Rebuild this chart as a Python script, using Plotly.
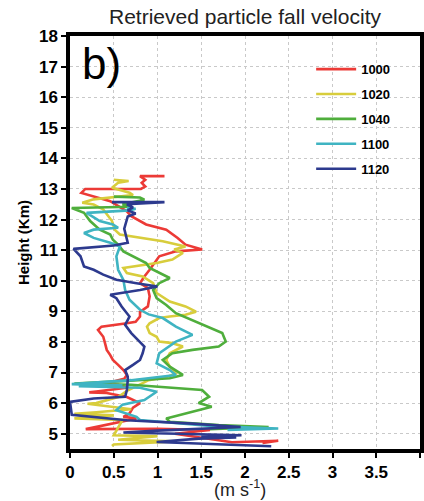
import plotly.graph_objects as go

# ---- data (velocity in m/s, height in km) ----
series_names = ["1000", "1020", "1040", "1100", "1120"]

red_v = [1.08, 0.80, 0.86, 0.82, 0.86, 0.81, 0.50, 0.175, 0.13, 0.27, 0.46, 0.65, 0.70, 0.87, 1.10, 1.23,
         1.32, 1.51, 1.21, 1.02, 0.97, 0.91, 0.85, 0.80, 0.89, 0.91, 0.89, 0.80, 0.80, 0.75, 0.65, 0.36,
         0.32, 0.38, 0.40, 0.42, 0.46, 0.49, 0.55, 0.61, 0.65, 0.62, 0.46, 0.34, 0.55, 0.65, 0.30, 0.22,
         0.42, 0.65, 0.80, 0.72, 0.68, 0.61, 0.76, 0.60, 0.18, 1.00, 1.60, 1.20, 1.85, 2.38, 2.20]
red_h = [13.42, 13.42, 13.30, 13.20, 13.08, 13.00, 13.00, 13.00, 12.87, 12.76, 12.60, 12.27, 12.11, 11.84,
         11.67, 11.40, 11.18, 11.02, 10.96, 10.80, 10.58, 10.36, 10.14, 9.92, 9.76, 9.49, 9.16, 8.98, 8.83,
         8.66, 8.61, 8.50, 8.39, 8.17, 7.96, 7.74, 7.57, 7.41, 7.25, 7.08, 6.92, 6.80, 6.68, 6.65, 6.60,
         6.50, 6.38, 6.35, 6.33, 6.20, 6.00, 5.85, 5.66, 5.55, 5.50, 5.40, 5.15, 5.16, 5.12, 5.00, 4.72,
         4.77, 4.70]

yellow_v = [0.50, 0.58, 0.67, 0.55, 0.48, 0.68, 0.72, 0.27, 0.14, 0.27, 0.38, 0.48, 0.51, 0.57, 0.83, 1.06,
            1.32, 1.19, 1.29, 1.17, 0.99, 0.83, 0.61, 0.65, 0.83, 0.95, 0.99, 1.14, 1.32, 1.44, 1.32, 1.14,
            1.02, 0.91, 0.88, 0.91, 0.99, 1.02, 1.17, 1.29, 1.14, 1.10, 1.14, 1.21, 1.10, 0.90, 0.65, 0.55,
            0.30, 0.20, 0.45, 0.70, 0.30, 0.05, 0.50, 0.05, 0.60, 0.50, 1.00, 0.55, 1.20, 0.50, 0.48]
yellow_h = [13.30, 13.28, 13.26, 13.20, 13.04, 12.88, 12.80, 12.66, 12.55, 12.49, 12.33, 11.95, 11.67, 11.51,
            11.40, 11.29, 11.12, 11.02, 10.91, 10.69, 10.58, 10.52, 10.42, 10.25, 10.14, 9.92, 9.60, 9.32,
            9.16, 8.99, 8.89, 8.83, 8.78, 8.61, 8.50, 8.29, 8.17, 8.01, 7.96, 7.85, 7.63, 7.41, 7.19, 6.97,
            6.85, 6.75, 6.40, 6.20, 6.00, 5.98, 5.90, 5.80, 5.70, 5.65, 5.60, 5.50, 5.45, 4.95, 4.92, 4.80,
            4.75, 4.65, 4.60]

green_v = [0.50, 0.80, 0.85, 0.60, 0.70, 0.02, 0.16, 0.23, 0.34, 0.46, 0.49, 0.55, 0.61, 0.76, 0.87, 0.91,
           1.02, 1.14, 1.02, 0.95, 0.99, 1.10, 1.21, 1.47, 1.66, 1.74, 1.78, 1.70, 1.40, 1.17, 1.06, 1.14,
           1.29, 1.14, 0.60, 0.05, 0.70, 1.51, 1.59, 1.47, 1.62, 1.32, 1.10, 1.14, 1.70, 2.27, 1.60]
green_h = [12.75, 12.72, 12.65, 12.50, 12.42, 12.38, 12.22, 11.95, 11.67, 11.51, 11.34, 11.18, 10.96, 10.74,
           10.58, 10.42, 10.25, 10.09, 9.92, 9.70, 9.43, 9.21, 8.94, 8.61, 8.39, 8.29, 8.01, 7.85, 7.74,
           7.63, 7.41, 7.19, 6.92, 6.81, 6.72, 6.64, 6.60, 6.43, 6.21, 6.00, 5.88, 5.66, 5.50, 5.39, 5.28,
           5.22, 5.15]

cyan_v = [0.65, 0.75, 0.68, 0.19, 0.34, 0.49, 0.55, 0.27, 0.16, 0.27, 0.46, 0.57, 0.53, 0.55, 0.61, 0.63,
          0.68, 0.80, 0.90, 1.06, 1.21, 1.40, 1.21, 1.02, 0.99, 1.14, 1.21, 0.70, 0.02, 0.60, 0.10, 0.80,
          0.99, 0.85, 0.60, 0.53, 0.76, 0.80, 1.60, 2.38, 1.80]
cyan_h = [12.38, 12.35, 12.30, 12.22, 11.95, 11.84, 11.73, 11.67, 11.56, 11.40, 11.24, 11.12, 10.80, 10.36,
          10.03, 9.70, 9.38, 9.05, 8.90, 8.78, 8.50, 8.23, 8.01, 7.63, 7.30, 7.08, 6.92, 6.75, 6.62, 6.58,
          6.55, 6.50, 6.37, 6.10, 5.95, 5.77, 5.55, 5.45, 5.25, 5.17, 5.12]

blue_v = [0.48, 1.08, 0.65, 0.72, 0.66, 0.75, 0.66, 0.62, 0.66, 0.50, 0.04, 0.12, 0.16, 0.27, 0.38, 0.53,
          0.76, 1.00, 0.80, 0.46, 0.53, 0.59, 0.68, 0.63, 0.70, 0.78, 0.85, 0.83, 0.80, 0.72, 0.63, 0.66,
          0.66, 0.65, 0.63, 0.27, 0.00, 0.02, 0.65, 1.40, 1.95, 1.00, 0.61, 1.96, 1.50, 1.90, 1.47, 0.99,
          2.30]
blue_h = [12.57, 12.57, 12.50, 12.40, 12.30, 12.20, 12.10, 11.70, 11.24, 11.15, 11.04, 10.80, 10.47, 10.36,
          10.20, 10.03, 9.92, 9.81, 9.70, 9.54, 9.43, 9.16, 8.83, 8.56, 8.29, 8.07, 7.85, 7.63, 7.41, 7.25,
          7.08, 6.86, 6.75, 6.43, 6.21, 6.15, 6.04, 5.62, 5.44, 5.33, 5.22, 5.10, 5.04, 4.95, 4.90, 4.88,
          4.84, 4.73, 4.59]

x_ticks = [0, 0.5, 1, 1.5, 2, 2.5, 3, 3.5, 4]
x_tick_labels = ["0", "0.5", "1", "1.5", "2", "2.5", "3", "3.5", "4"]
y_ticks = list(range(5, 19))

colors = ["#ec3a36", "#d8cd3c", "#4fae3c", "#3fb4c2", "#2d3a8e"]
all_v = [red_v, yellow_v, green_v, cyan_v, blue_v]
all_h = [red_h, yellow_h, green_h, cyan_h, blue_h]

fig = go.Figure()
for i, (name, v, h) in enumerate(zip(series_names, all_v, all_h)):
    fig.add_trace(go.Scatter(x=v, y=h, mode="lines", name=name, legendgroup=name,
                             line=dict(color=colors[i], width=2.6)))

FONT = "Liberation Sans, Arial, sans-serif"
axis_common = dict(showline=True, linecolor="black", linewidth=3.5, mirror=True,
                   showgrid=True, gridcolor="#c9c9c9", griddash="dot", gridwidth=1,
                   ticks="outside", ticklen=5, tickwidth=2, tickcolor="black",
                   zeroline=False, automargin=False,
                   tickfont=dict(family=FONT, size=17, color="black", weight="bold"))

W, H = 424, 501
L, R, T, B = 70, 4, 36, 52

def px_to_paper(px, py):
    return (px - L) / (W - L - R), 1 - (py - T) / (H - T - B)

bx, by = px_to_paper(101, 63)
xtx, xty = px_to_paper(240, 489)
ytx, yty = px_to_paper(23, 243)

fig.update_layout(
    width=W, height=H,
    margin=dict(l=L, r=R, t=T, b=B, autoexpand=False),
    paper_bgcolor="white", plot_bgcolor="white",
    title=dict(text="Retrieved particle fall velocity", x=245 / W, xanchor="center",
               y=1 - 17 / H, yanchor="middle", automargin=False,
               font=dict(family=FONT, size=21, color="#222222")),
    xaxis=dict(range=[0, 4], tickvals=x_ticks, ticktext=x_tick_labels, **axis_common),
    yaxis=dict(range=[4.5, 18], tickvals=y_ticks, **axis_common),
    legend=dict(x=0.689, y=0.956, xanchor="left", yanchor="top", bgcolor="rgba(0,0,0,0)",
                itemwidth=40, tracegroupgap=5,
                font=dict(family=FONT, size=13, color="black", weight="bold")),
    annotations=[
        dict(text="b)", x=bx, y=by, xref="paper", yref="paper", showarrow=False,
             xanchor="center", yanchor="middle",
             font=dict(family=FONT, size=44, color="black")),
        dict(text="(m s<sup>-1</sup>)", x=xtx, y=xty, xref="paper", yref="paper",
             showarrow=False, xanchor="center", yanchor="middle",
             font=dict(family=FONT, size=18, color="#222222")),
        dict(text="<b>Height (Km)</b>", x=ytx, y=yty, xref="paper", yref="paper",
             showarrow=False, xanchor="center", yanchor="middle", textangle=-90,
             font=dict(family=FONT, size=15, color="black")),
    ],
)

fig.write_html("out.html", config={"displayModeBar": False},
               post_script="document.body.style.margin='0';document.body.style.overflow='hidden';")
